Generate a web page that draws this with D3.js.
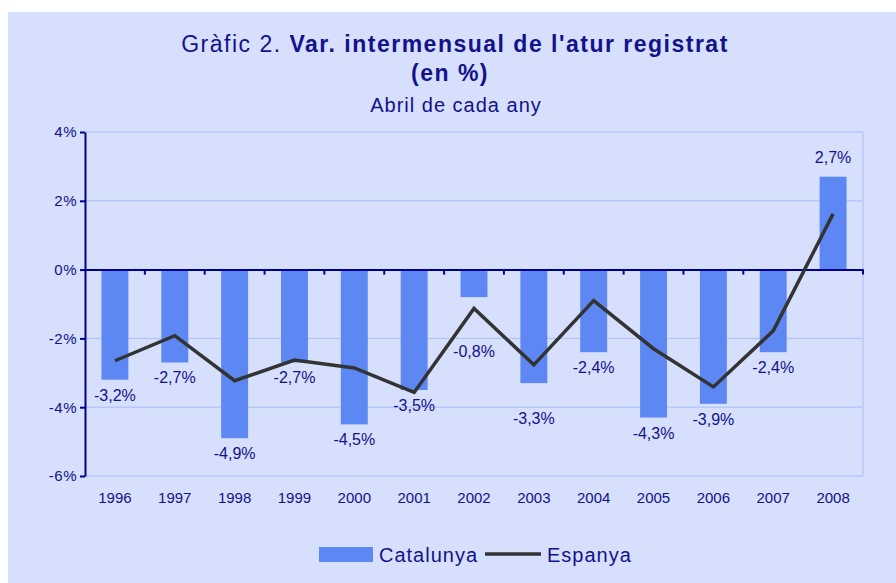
<!DOCTYPE html>
<html lang="ca">
<head>
  <meta charset="UTF-8">
  <title>Var. intermensual de l'atur registrat</title>
  <style>
    body {
      margin: 0;
      padding: 0;
      background-color: #ffffff;
      font-family: "Liberation Sans", Arial, sans-serif;
    }
    svg text {
      fill: #12128c;
    }
  </style>
</head>
<body>
<div id="chart"></div>
<script src="https://d3js.org/d3.v7.min.js"></script>
<script>
  // data
  const years = ["1996", "1997", "1998", "1999", "2000", "2001", "2002", "2003", "2004", "2005", "2006", "2007", "2008"];
  const catalunya = [-3.2, -2.7, -4.9, -2.7, -4.5, -3.5, -0.8, -3.3, -2.4, -4.3, -3.9, -2.4, 2.7];
  const espanya = [-2.65, -1.92, -3.23, -2.63, -2.86, -3.57, -1.13, -2.77, -0.9, -2.3, -3.41, -1.78, 1.62];
  const yTicks = [-6, -4, -2, 0, 2, 4];

  const width = 896;
  const height = 583;
  const margin = { top: 132, right: 33, bottom: 107, left: 85 };
  const innerW = width - margin.left - margin.right;
  const innerH = height - margin.top - margin.bottom;

  // labels that were moved down in the original to clear the line
  const labelShift = { "2002": 39, "2003": 20 };

  const pct = d => d.toFixed(1).replace(".", ",") + "%";

  const svg = d3.select("#chart").append("svg")
    .attr("width", width)
    .attr("height", height);

  // background panel
  svg.append("rect")
    .attr("x", 8).attr("y", 12)
    .attr("width", width - 8).attr("height", height - 12)
    .attr("fill", "#d6dffb");

  // titles
  const title = svg.append("text")
    .attr("x", 455).attr("y", 52)
    .attr("text-anchor", "middle")
    .style("font-size", "23px")
    .style("letter-spacing", "1.5px");
  title.append("tspan").text("Gràfic 2. ");
  title.append("tspan").style("font-weight", "bold").text("Var. intermensual de l'atur registrat");

  svg.append("text")
    .attr("x", 450).attr("y", 81)
    .attr("text-anchor", "middle")
    .style("font-size", "23px")
    .style("font-weight", "bold")
    .style("letter-spacing", "1.5px")
    .text("(en %)");

  svg.append("text")
    .attr("x", 456).attr("y", 112)
    .attr("text-anchor", "middle")
    .style("font-size", "20px")
    .style("letter-spacing", "1px")
    .text("Abril de cada any");

  const g = svg.append("g")
    .attr("transform", `translate(${margin.left},${margin.top})`);

  const x = d3.scaleBand().domain(years).range([0, innerW]).paddingInner(0.55).paddingOuter(0.275);
  const xb = d3.scaleBand().domain(years).range([0, innerW]);
  const y = d3.scaleLinear().domain([-6, 4]).range([innerH, 0]);

  // gridlines
  g.selectAll(".grid")
    .data(yTicks.filter(d => d !== 0))
    .enter().append("line")
    .attr("x1", 0).attr("x2", innerW)
    .attr("y1", d => y(d)).attr("y2", d => y(d))
    .attr("stroke", "#a9bff7")
    .attr("stroke-width", 1);

  // right border of plot
  g.append("line")
    .attr("x1", innerW).attr("x2", innerW)
    .attr("y1", 0).attr("y2", innerH)
    .attr("stroke", "#a9bff7");

  // bars
  g.selectAll(".bar")
    .data(catalunya)
    .enter().append("rect")
    .attr("x", (d, i) => x(years[i]))
    .attr("width", x.bandwidth())
    .attr("y", d => y(Math.max(0, d)))
    .attr("height", d => Math.abs(y(d) - y(0)))
    .attr("fill", "#5d88f4");

  // zero line with category ticks
  g.append("g")
    .attr("transform", `translate(0,${y(0)})`)
    .call(d3.axisBottom(xb).tickValues([]).tickSizeOuter(0))
    .call(a => a.select(".domain").attr("stroke", "#000090").attr("stroke-width", 2));
  g.selectAll(".ctick")
    .data(years)
    .enter().append("line")
    .attr("x1", d => xb(d) + xb.bandwidth()).attr("x2", d => xb(d) + xb.bandwidth())
    .attr("y1", y(0)).attr("y2", y(0) + 5)
    .attr("stroke", "#000090").attr("stroke-width", 2);

  // y axis
  const yAxis = g.append("g")
    .call(d3.axisLeft(y).tickValues(yTicks).tickSize(5).tickSizeOuter(0).tickFormat(d => d + "%"));
  yAxis.select(".domain").attr("stroke", "#000090").attr("stroke-width", 2);
  yAxis.selectAll(".tick line").attr("stroke", "#000090").attr("stroke-width", 2);
  yAxis.selectAll(".tick text")
    .attr("x", -8)
    .style("font-size", "15px")
    .style("letter-spacing", "0.5px")
    .style("font-family", "Liberation Sans, Arial, sans-serif")
    .attr("fill", "#12128c");

  // year labels
  g.selectAll(".year")
    .data(years)
    .enter().append("text")
    .attr("x", d => xb(d) + xb.bandwidth() / 2)
    .attr("y", innerH + 27)
    .attr("text-anchor", "middle")
    .style("font-size", "15px")
    .text(d => d);

  // data labels
  g.selectAll(".lbl")
    .data(catalunya)
    .enter().append("text")
    .attr("x", (d, i) => x(years[i]) + x.bandwidth() / 2)
    .attr("y", (d, i) => d < 0 ? y(d) + 21 + (labelShift[years[i]] || 0) : y(d) - 14)
    .attr("text-anchor", "middle")
    .style("font-size", "16px")
    .text(pct);

  // espanya line
  const line = d3.line()
    .x((d, i) => x(years[i]) + x.bandwidth() / 2)
    .y(d => y(d));
  g.append("path")
    .datum(espanya)
    .attr("d", line)
    .attr("fill", "none")
    .attr("stroke", "#333333")
    .attr("stroke-width", 3.5);

  // legend
  const leg = svg.append("g");
  leg.append("rect")
    .attr("x", 319).attr("y", 547)
    .attr("width", 54).attr("height", 15)
    .attr("fill", "#5d88f4");
  leg.append("text")
    .attr("x", 379).attr("y", 562)
    .style("font-size", "20px")
    .style("letter-spacing", "1px")
    .text("Catalunya");
  leg.append("line")
    .attr("x1", 485).attr("x2", 541)
    .attr("y1", 554).attr("y2", 554)
    .attr("stroke", "#333333").attr("stroke-width", 3.5);
  leg.append("text")
    .attr("x", 547).attr("y", 562)
    .style("font-size", "20px")
    .style("letter-spacing", "1px")
    .text("Espanya");
</script>
</body>
</html>
